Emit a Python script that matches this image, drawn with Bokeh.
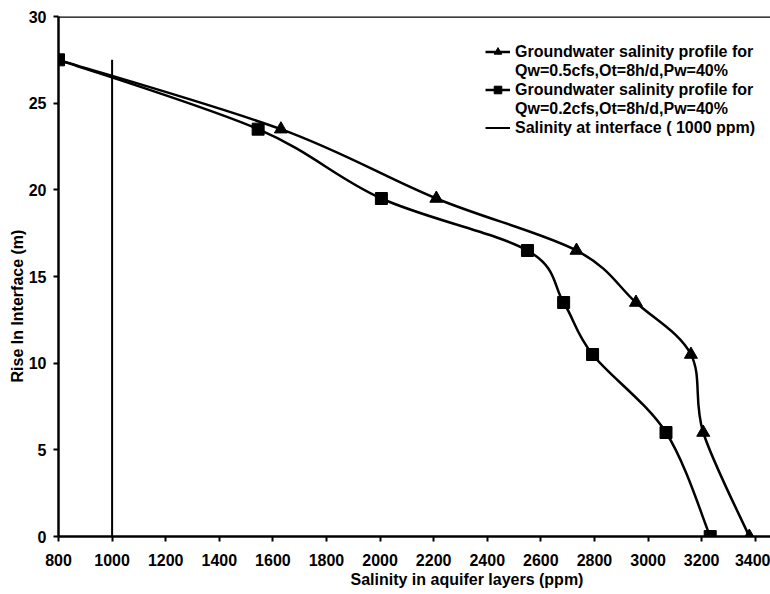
from bokeh.plotting import figure
from bokeh.models import Legend, LegendItem, Span, FixedTicker, Title
from bokeh.embed import file_html
from bokeh.resources import INLINE

# Rise in interface (m) at which salinity was sampled
depth_levels = [27.5, 23.5, 19.5, 16.5, 13.5, 10.5, 6.0, 0.0]

# Salinity (ppm) for Qw=0.5cfs, Ot=8h/d, Pw=40%
salinity_q05 = [800, 1630, 2210, 2733, 2955, 3160, 3206, 3378]
# Salinity (ppm) for Qw=0.2cfs, Ot=8h/d, Pw=40%
salinity_q02 = [800, 1545, 2005, 2550, 2685, 2793, 3067, 3232]

# Interface salinity reference line (1000 ppm)
interface_x = [1000, 1000]
interface_y = [0.0, 27.5]

x_ticks = list(range(800, 3401, 200))
y_ticks = list(range(0, 31, 5))

FONT = "Liberation Sans"


def smooth_segments(xs, ys, k=1.0 / 6.0):
    """Cubic Bezier pieces (cardinal spline) through every point."""
    n = len(xs)
    x0, y0, x1, y1, cx0, cy0, cx1, cy1 = ([] for _ in range(8))
    for i in range(n - 1):
        pa = max(i - 1, 0)
        pd = min(i + 2, n - 1)
        x0.append(xs[i]); y0.append(ys[i])
        x1.append(xs[i + 1]); y1.append(ys[i + 1])
        cx0.append(xs[i] + (xs[i + 1] - xs[pa]) * k)
        cy0.append(ys[i] + (ys[i + 1] - ys[pa]) * k)
        cx1.append(xs[i + 1] - (xs[pd] - xs[i]) * k)
        cy1.append(ys[i + 1] - (ys[pd] - ys[i]) * k)
    return dict(x0=x0, y0=y0, x1=x1, y1=y1, cx0=cx0, cy0=cy0, cx1=cx1, cy1=cy1)


p = figure(
    width=770, height=594,
    x_range=(800, 3457), y_range=(0, 30),
    output_backend="svg", toolbar_location=None,
    min_border_left=58, min_border_right=0,
    min_border_top=16, min_border_bottom=58,
)
p.grid.visible = False
p.outline_line_color = None
p.background_fill_color = "white"
p.border_fill_color = "white"

LW = 2.5

# smoothed salinity profiles
curve_q05 = p.bezier(source=smooth_segments(salinity_q05, depth_levels),
                     x0="x0", y0="y0", x1="x1", y1="y1",
                     cx0="cx0", cy0="cy0", cx1="cx1", cy1="cy1",
                     line_color="black", line_width=LW)
curve_q02 = p.bezier(source=smooth_segments(salinity_q02, depth_levels),
                     x0="x0", y0="y0", x1="x1", y1="y1",
                     cx0="cx0", cy0="cy0", cx1="cx1", cy1="cy1",
                     line_color="black", line_width=LW)

tri = p.scatter(salinity_q05, depth_levels, marker="triangle", size=13,
                fill_color="black", line_color="black")
sq = p.scatter(salinity_q02, depth_levels, marker="square", size=12,
               fill_color="black", line_color="black")

iface = p.line(interface_x, interface_y, line_color="black", line_width=2)

# top border of the plot area
p.add_layout(Span(location=30, dimension="width", line_color="black", line_width=LW))

# second text line of a two-line legend entry (no symbol)
blank = p.line([], [], line_alpha=0)

legend = Legend(
    items=[
        LegendItem(label="Groundwater salinity profile for", renderers=[curve_q05, tri]),
        LegendItem(label="Qw=0.5cfs,Ot=8h/d,Pw=40%", renderers=[blank]),
        LegendItem(label="Groundwater salinity profile for", renderers=[curve_q02, sq]),
        LegendItem(label="Qw=0.2cfs,Ot=8h/d,Pw=40%", renderers=[blank]),
        LegendItem(label="Salinity at interface ( 1000 ppm)", renderers=[iface]),
    ],
    location=(427, 399),
    padding=0, spacing=0, margin=0,
    glyph_width=25, glyph_height=19, label_height=19,
    label_standoff=5,
    border_line_color=None, background_fill_alpha=0,
    label_text_font=FONT, label_text_font_style="bold",
    label_text_font_size="16px", label_text_color="black",
)
p.add_layout(legend)

for ax in (p.xaxis[0], p.yaxis[0]):
    ax.axis_line_width = LW
    ax.axis_line_color = "black"
    ax.major_tick_line_width = 2
    ax.major_tick_line_color = "black"
    ax.major_tick_in = 0
    ax.major_tick_out = 5
    ax.minor_tick_line_color = None
    ax.major_label_text_font = FONT
    ax.major_label_text_font_style = "bold"
    ax.major_label_text_font_size = "16px"
    ax.major_label_text_color = "black"

p.xaxis.ticker = FixedTicker(ticks=x_ticks)
p.yaxis.ticker = FixedTicker(ticks=y_ticks)
p.xaxis.major_label_standoff = 12
p.yaxis.major_label_standoff = 7

# axis titles
p.add_layout(Title(text="Salinity in aquifer layers (ppm)", align="left", offset=292,
                   standoff=0, text_font=FONT, text_font_style="bold",
                   text_font_size="16px", text_color="black"), "below")
p.add_layout(Title(text="Rise In Interface (m)", align="left", offset=154,
                   standoff=0, text_font=FONT, text_font_style="bold",
                   text_font_size="16px", text_color="black"), "left")

open("out.html", "w").write(file_html(p, INLINE))
